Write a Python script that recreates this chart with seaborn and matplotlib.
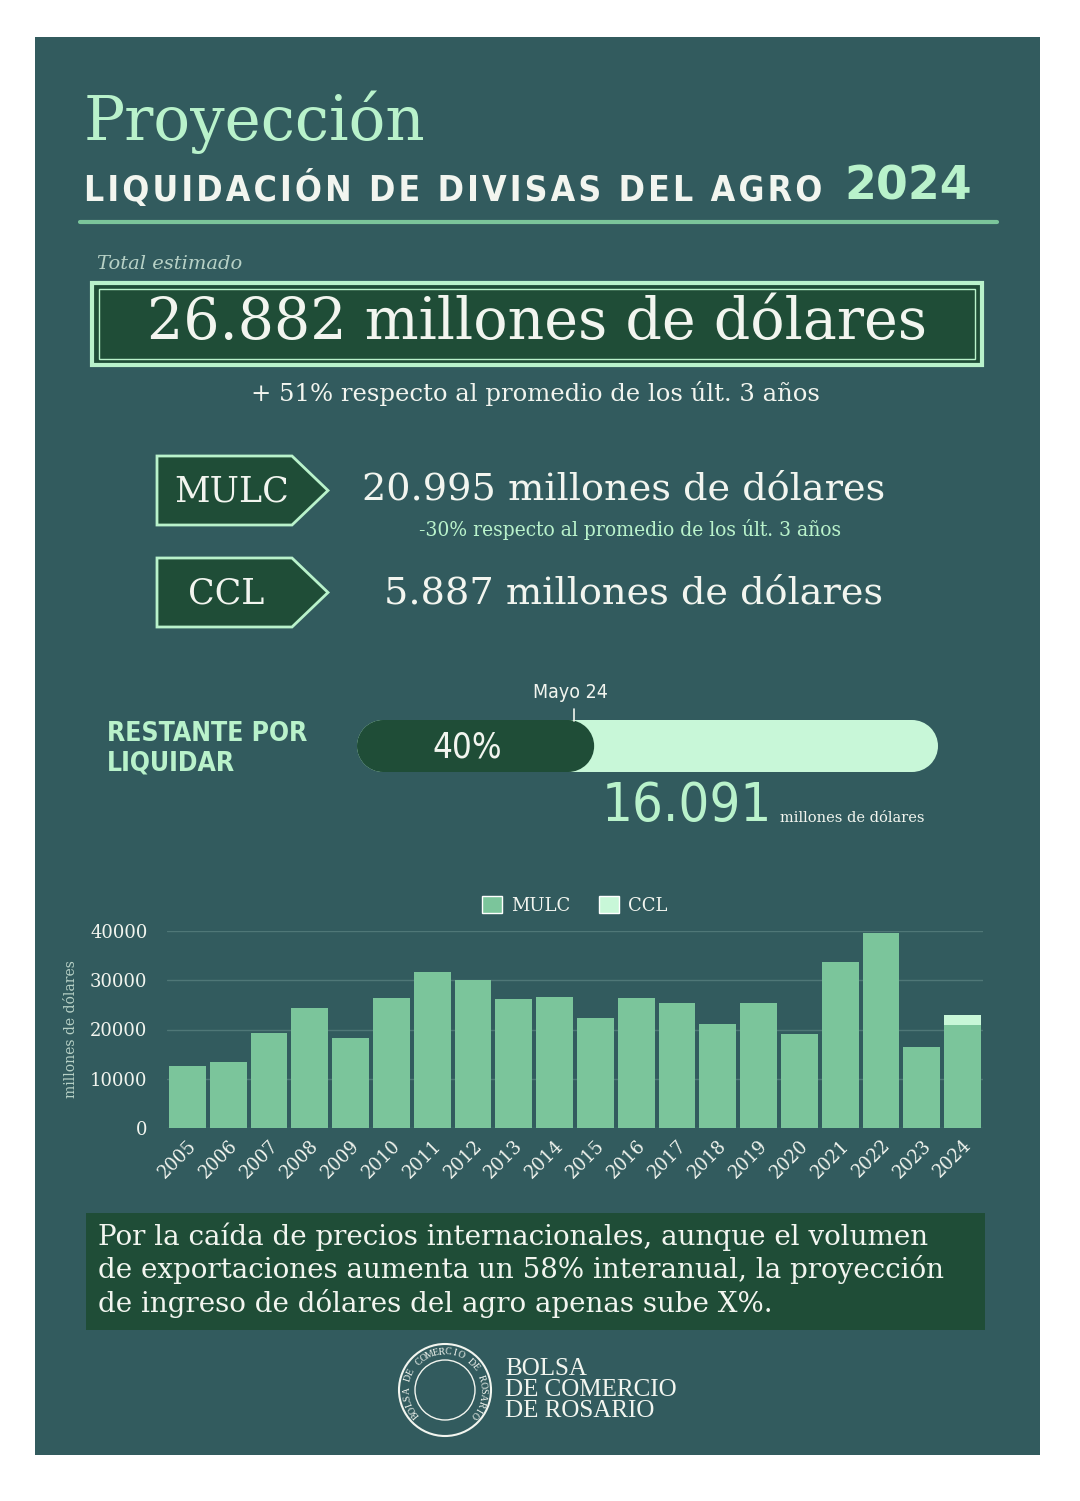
import matplotlib
matplotlib.use("Agg")
import numpy as np
import matplotlib.pyplot as plt
import seaborn as sns
import pandas as pd
from matplotlib.patches import Rectangle, Polygon, Circle, Patch

# datos del grafico de barras (millones de dolares)
years = ["2005", "2006", "2007", "2008", "2009", "2010", "2011", "2012", "2013", "2014",
         "2015", "2016", "2017", "2018", "2019", "2020", "2021", "2022", "2023", "2024"]
mulc = [12500, 13300, 19300, 24400, 18300, 26400, 31600, 30000, 26100, 26500,
        22400, 26400, 25400, 21200, 25400, 19100, 33700, 39600, 16500, 21000]
ccl = [0, 0, 0, 0, 0, 0, 0, 0, 0, 0,
       0, 0, 0, 0, 0, 0, 0, 0, 0, 2000]
y_ticks = [0, 10000, 20000, 30000, 40000]

# textos y cifras del infografico
total_estimado = "26.882"
mulc_total = "20.995"
ccl_total = "5.887"
restante = "16.091"
restante_pct = 40

# colores
BG = "#325b5e"
DARK = "#1f4d37"
LIGHT = "#b9f2cb"
PALE = "#c8f7d8"
BAR_MULC = "#7bc59b"
WHITE = "#f2f5ef"

sns.set_style("dark")
plt.rcParams["font.family"] = ["DejaVu Serif", "DejaVu Sans"]

fig = plt.figure(figsize=(10.8, 15.01), dpi=100)
fig.patch.set_facecolor("white")

# capa de fondo en coordenadas de pixel
bg = fig.add_axes([0, 0, 1, 1])
bg.set_xlim(0, 1080)
bg.set_ylim(1501, 0)
bg.axis("off")
bg.add_patch(Rectangle((35, 37), 1005, 1418, facecolor=BG, edgecolor="none"))

# titulo (con espaciado entre letras)
subtitulo = "LIQUIDACIÓN DE DIVISAS DEL AGRO"
espaciado = "\u200a".join(subtitulo)
bg.text(84, 122, "Proyección", color=LIGHT, fontsize=44, va="center", ha="left")
bg.text(84, 189, espaciado, color=WHITE, fontsize=25.5,
        fontweight="bold", family="DejaVu Sans", fontstretch="condensed",
        va="center", ha="left")
bg.text(972, 187, "2024", color=LIGHT, fontsize=33, fontweight="bold",
        family="DejaVu Sans", va="center", ha="right")
bg.plot([80, 997], [222, 222], color="#7bc59b", lw=3)

# total estimado
bg.text(97, 264, "Total estimado", color="#b7d1c6", fontsize=14, style="italic",
        va="center", ha="left")
bg.add_patch(Rectangle((92, 283), 890, 82, facecolor=DARK, edgecolor=LIGHT, lw=3))
bg.add_patch(Rectangle((99, 289), 876, 70, facecolor="none", edgecolor=LIGHT, lw=1))
bg.text(537, 323, total_estimado + " millones de dólares", color=WHITE, fontsize=41,
        va="center", ha="center")
bg.text(535, 394, "+ 51% respecto al promedio de los últ. 3 años", color=WHITE,
        fontsize=17.5, va="center", ha="center")

# MULC y CCL
for y0, label in [(456, "MULC"), (558, "CCL")]:
    bg.add_patch(Polygon([(157, y0), (292, y0), (328, y0 + 34.5), (292, y0 + 69), (157, y0 + 69)],
                         closed=True, facecolor=DARK, edgecolor=LIGHT, lw=2))
    bg.text(232 if label == "MULC" else 226, y0 + 35, label, color=WHITE, fontsize=25,
            va="center", ha="center")
bg.text(624, 490, mulc_total + " millones de dólares", color=WHITE, fontsize=27.5,
        va="center", ha="center")
bg.text(630, 529, "-30% respecto al promedio de los últ. 3 años", color=LIGHT,
        fontsize=15, va="center", ha="center", fontstretch="condensed")
bg.text(634, 593, ccl_total + " millones de dólares", color=WHITE, fontsize=27.5,
        va="center", ha="center")

# barra de progreso
bar_x0, bar_x1, bar_y, bar_h = 357, 938, 720, 52
r = bar_h / 2
bg.add_patch(Rectangle((bar_x0 + r, bar_y), bar_x1 - bar_x0 - 2 * r, bar_h, facecolor=PALE, edgecolor="none"))
bg.add_patch(Circle((bar_x0 + r, bar_y + r), r, facecolor=PALE, edgecolor="none"))
bg.add_patch(Circle((bar_x1 - r, bar_y + r), r, facecolor=PALE, edgecolor="none"))
dark_end = bar_x0 + (bar_x1 - bar_x0) * restante_pct / 98.0
bg.add_patch(Rectangle((bar_x0 + r, bar_y), dark_end - bar_x0 - 2 * r, bar_h, facecolor=DARK, edgecolor="none"))
bg.add_patch(Circle((bar_x0 + r, bar_y + r), r, facecolor=DARK, edgecolor="none"))
bg.add_patch(Circle((dark_end - r, bar_y + r), r, facecolor=DARK, edgecolor="none"))
bg.text(467, 747, f"{restante_pct}%", color=WHITE, fontsize=25, family="DejaVu Sans",
        fontstretch="condensed", va="center", ha="center")
bg.plot([574, 574], [709, 721], color=WHITE, lw=1.2)
bg.text(570, 692, "Mayo 24", color=WHITE, fontsize=14, va="center", ha="center",
        family="DejaVu Sans", fontstretch="condensed")
bg.text(107, 749, "RESTANTE POR\nLIQUIDAR", color=LIGHT, fontsize=19, fontweight="bold",
        family="DejaVu Sans", fontstretch="condensed", va="center", ha="left",
        linespacing=1.2)
bg.text(772, 806, restante, color=LIGHT, fontsize=39, family="DejaVu Sans",
        fontstretch="condensed", va="center", ha="right")
bg.text(780, 818, "millones de dólares", color=WHITE, fontsize=10.5, va="center", ha="left")

# grafico de barras
df = pd.DataFrame({"year": years, "MULC": mulc, "CCL": ccl})
df["total"] = df["MULC"] + df["CCL"]
ax = fig.add_axes([167 / 1080, (1501 - 1128) / 1501, (983 - 167) / 1080, (1128 - 931) / 1501])
ax.set_facecolor("none")
sns.barplot(data=df, x="year", y="total", color=PALE, saturation=1, width=0.9,
            linewidth=0, edgecolor="none", ax=ax)
sns.barplot(data=df, x="year", y="MULC", color=BAR_MULC, saturation=1, width=0.9,
            linewidth=0, edgecolor="none", ax=ax)
ax.set_ylim(0, 40000)
ax.set_yticks(y_ticks)
ax.set_yticklabels([str(v) for v in y_ticks])
ax.grid(axis="y", color="#4f7777", lw=1)
ax.grid(axis="x", visible=False)
ax.set_axisbelow(True)
for s in ax.spines.values():
    s.set_visible(False)
ax.tick_params(axis="both", length=0, colors=WHITE, labelsize=13)
ax.tick_params(axis="y", pad=14)
ax.tick_params(axis="x", pad=6)
plt.setp(ax.get_xticklabels(), rotation=45, ha="right", rotation_mode="anchor")
ax.set_xlabel("")
ax.set_ylabel("millones de dólares", color="#b7d1c6", fontsize=10, labelpad=9)
ax.legend(handles=[Patch(facecolor=BAR_MULC, label="MULC"), Patch(facecolor=PALE, label="CCL")],
          loc="lower center", bbox_to_anchor=(0.5, 1.0), ncol=2, frameon=False,
          labelcolor=WHITE, fontsize=13, handlelength=1.1, handleheight=1.1,
          columnspacing=1.6, handletextpad=0.5)

# texto final
bg.add_patch(Rectangle((86, 1213), 899, 117, facecolor=DARK, edgecolor="none"))
lines = ["Por la caída de precios internacionales, aunque el volumen",
         "de exportaciones aumenta un 58% interanual, la proyección",
         "de ingreso de dólares del agro apenas sube X%."]
for i, line in enumerate(lines):
    bg.text(98, 1237 + 33 * i, line, color=WHITE, fontsize=20, va="center", ha="left")

# logo
cx, cy = 445, 1390
bg.add_patch(Circle((cx, cy), 46, facecolor="none", edgecolor=WHITE, lw=1.5))
bg.add_patch(Circle((cx, cy), 30, facecolor="none", edgecolor=WHITE, lw=1))
anillo = "BOLSA DE COMERCIO DE ROSARIO"
angs = np.linspace(220, -40, len(anillo))
for ch, a in zip(anillo, angs):
    t = np.deg2rad(a)
    bg.text(cx + 38 * np.cos(t), cy - 38 * np.sin(t), ch, color=WHITE, fontsize=7,
            family="Liberation Serif", rotation=a - 90, ha="center", va="center")
bg.text(505, 1390, "BOLSA\nDE COMERCIO\nDE ROSARIO", color=WHITE, fontsize=18,
        family="Liberation Serif", va="center", ha="left", linespacing=0.95)

fig.savefig("out.png", dpi=100, facecolor="white")
